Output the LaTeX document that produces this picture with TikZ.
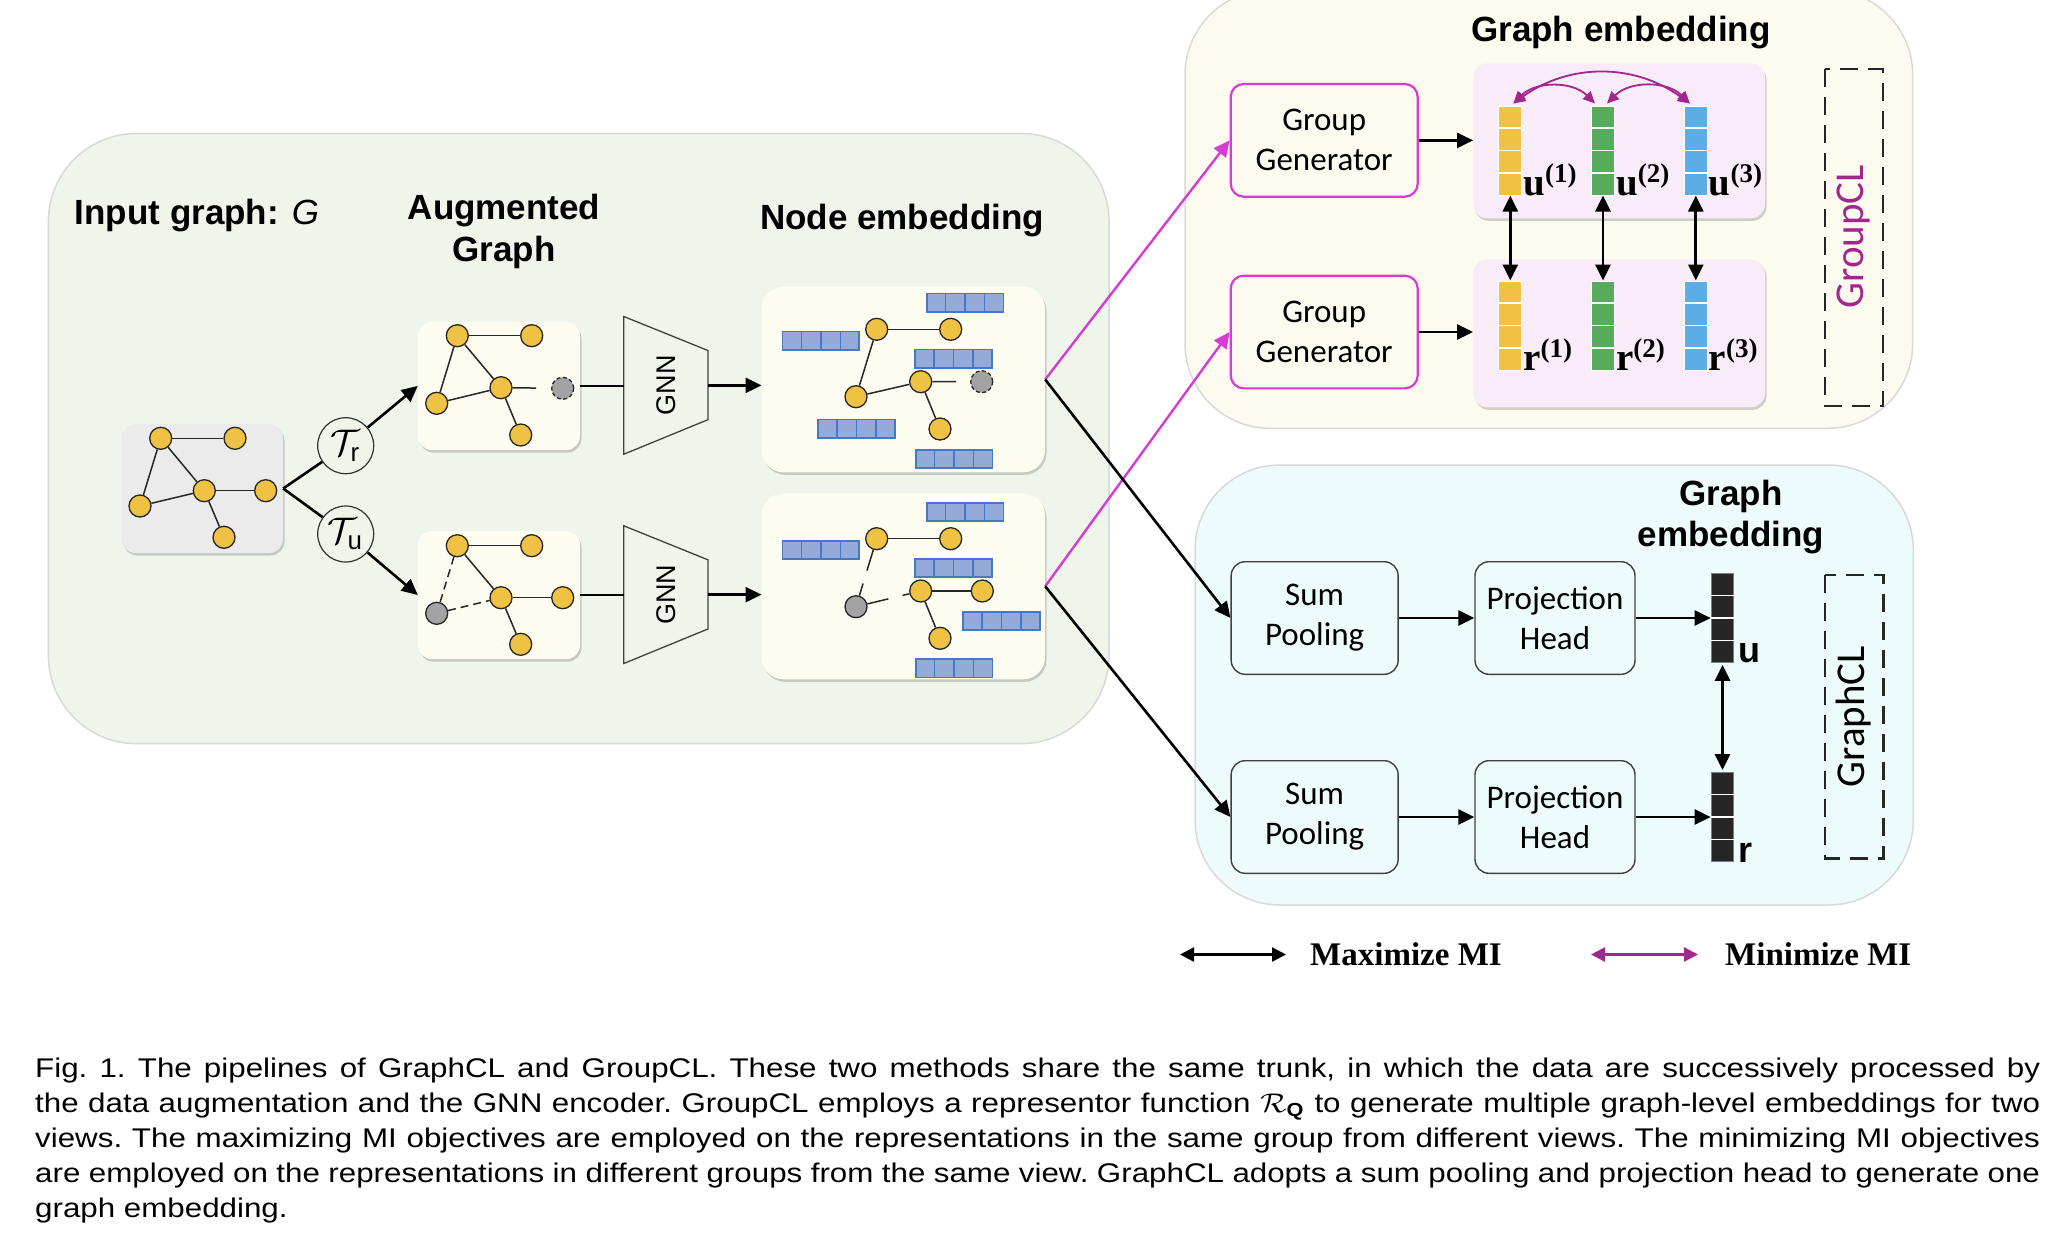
\documentclass[tikz,border=0pt]{standalone}
\usepackage{amsmath}
\usepackage{graphicx}
\usepackage{fontspec}
\setmainfont{Liberation Sans}
\setsansfont{Liberation Sans}
\newfontfamily\tnr{Liberation Serif}
\newfontfamily\calib{Carlito}
\newfontfamily\capfont[FakeStretch=1.16]{Liberation Sans}
\usetikzlibrary{arrows.meta,calc,shadows}
\hyphenpenalty=10000
\exhyphenpenalty=10000
\definecolor{bgGreen}{HTML}{EFF5EB}
\definecolor{cream}{HTML}{FDFCF1}
\definecolor{inGray}{HTML}{EBEBEB}
\definecolor{nodeY}{HTML}{F0C243}
\definecolor{nodeG}{HTML}{A3A3A3}
\definecolor{barFill}{HTML}{94AAD9}
\definecolor{barEdge}{HTML}{4779C3}
\definecolor{trCream}{HTML}{FDFBEF}
\definecolor{lav}{HTML}{F8ECF8}
\definecolor{mag}{HTML}{D63BD3}
\definecolor{purp}{HTML}{A3268F}
\definecolor{cyanBg}{HTML}{EEFBFD}
\definecolor{barY}{HTML}{F1C242}
\definecolor{barG}{HTML}{57AB5C}
\definecolor{barB}{HTML}{5CADE6}
\definecolor{barK}{HTML}{262626}
\tikzset{
  shadowed/.style={drop shadow={shadow xshift=1.5pt, shadow yshift=-2.5pt, opacity=0.3, fill=black!60}},
  panelbox/.style={draw=black!15, line width=1.5pt, rounded corners=88pt},
  cbox/.style={rectangle, fill=cream, rounded corners=14pt, inner sep=0pt, shadowed},
  gnode/.style={circle, draw=black!85, fill=nodeY, line width=1.3pt, minimum size=22pt, inner sep=0pt},
  gnodegray/.style={gnode, fill=nodeG},
  dnode/.style={dash pattern=on 4pt off 2.5pt},
  gedge/.style={line width=1.5pt, black!85},
  gdash/.style={gedge, dash pattern=on 8pt off 5pt},
  lk/.style={line width=2.6pt, black},
  conn/.style={lk, -{Triangle[length=16pt,width=15pt]}},
  bidir/.style={line width=2.8pt, black, {Triangle[length=16pt,width=15pt]}-{Triangle[length=16pt,width=15pt]}},
  magconn/.style={line width=2.4pt, mag, -{Triangle[length=16pt,width=15pt]}},
  minarc/.style={line width=1.8pt, purp, {Triangle[length=12pt,width=11pt]}-{Triangle[length=12pt,width=11pt]}},
  hbarst/.style={rectangle, draw=barEdge, fill=barFill, line width=1.5pt, minimum width=76.7pt, minimum height=18.3pt, inner sep=0pt, anchor=north west},
  vbarst/.style={rectangle, draw=white, line width=1pt, minimum width=22.7pt, minimum height=89pt, inner sep=0pt},
  ttl/.style={font=\fontsize{35}{35}\selectfont\bfseries, inner sep=0pt, anchor=base},
  ggbox/.style={rectangle, draw=mag, line width=2.2pt, fill=trCream, rounded corners=13pt, minimum width=187pt, minimum height=112.7pt, align=center, font=\calib\fontsize{33}{40}\selectfont},
  spbox/.style={rectangle, draw=black!75, line width=1.4pt, fill=cyanBg, rounded corners=14pt, minimum width=167pt, minimum height=112.6pt, align=center, font=\calib\fontsize{33}{40}\selectfont},
  dashbox/.style={draw=black!85, line width=2.4pt, dash pattern=on 18pt off 10pt},
  tcirc/.style={circle, draw=black!80, line width=1.2pt, minimum size=56pt, inner sep=0pt, fill=bgGreen},
  gnnbox/.style={inner sep=0pt, minimum width=83.7pt, minimum height=137.3pt, font=\fontsize{27}{27}\selectfont}
}
\newcommand\vcells[1]{\foreach \k in {0.25,0.5,0.75} \draw[white, line width=1.6pt] ($(#1.north west)!\k!(#1.south west)$) -- ($(#1.north east)!\k!(#1.south east)$);}
\newcommand\hcells[1]{\foreach \k in {0.25,0.5,0.75} \draw[barEdge, line width=1.5pt] ($(#1.north west)!\k!(#1.north east)$) -- ($(#1.south west)!\k!(#1.south east)$);}
\newcommand\supl[2]{\textbf{#1}\raisebox{13pt}{\fontsize{27}{27}\selectfont\textbf{(#2)}}}
\begin{document}
\begin{tikzpicture}[x=1pt,y=-1pt]
\useasboundingbox (0,0) rectangle (2053,1237);
\fill[white] (0,0) rectangle (2053,1237);

% ---------- panels ----------
\draw[panelbox, fill=bgGreen] (48.4,133.5) rectangle (1109,743.6);
\draw[panelbox, fill=trCream, rounded corners=85pt] (1185,-10) rectangle (1912.7,428.3);
\draw[panelbox, fill=cyanBg, rounded corners=85pt] (1195,465) rectangle (1913.3,905);

% ---------- titles ----------
\node[ttl, anchor=base west] (tin) at (74.6,224) {Input graph: {\mdseries\itshape G}};
\node[ttl] (taug1) at (504,219) {Augmented};
\node[ttl] (taug2) at (504,261) {Graph};
\node[ttl] (tne) at (902,229) {Node embedding};
\node[ttl] (tge) at (1621,41.7) {Graph embedding};
\node[ttl] (tge2a) at (1731,505) {Graph};
\node[ttl] (tge2b) at (1731,546.7) {embedding};

% ---------- input graph ----------
\node[cbox, fill=inGray, minimum width=161.3pt, minimum height=129pt] (gin) at (202.35,488.5) {};
\node[gnode] (i1) at (160.7,438.3) {};
\node[gnode] (i2) at (235,438.3) {};
\node[gnode] (i3) at (140,506) {};
\node[gnode] (i4) at (204.3,490.7) {};
\node[gnode] (i5) at (265.7,490.7) {};
\node[gnode] (i6) at (224,537.3) {};
\draw[gedge] (i1) -- (i2); \draw[gedge] (i1) -- (i3); \draw[gedge] (i1) -- (i4);
\draw[gedge] (i3) -- (i4); \draw[gedge] (i4) -- (i5); \draw[gedge] (i4) -- (i6);

% ---------- augmentations ----------
\node[tcirc] (Tr) at (345.7,445.7) {\scalebox{3.7}{$\mathcal{T}_{\textsf{r}}$}};
\node[tcirc] (Tu) at (345.7,534) {\scalebox{3.7}{$\mathcal{T}_{\textsf{u}}$}};
\node[cbox, minimum width=162pt, minimum height=128.3pt] (aug1) at (499,385.9) {};
\node[cbox, minimum width=162pt, minimum height=128.3pt] (aug2) at (499,595) {};
\draw[lk] (gin.east) -- (Tr);
\draw[lk] (gin.east) -- (Tu);
\draw[conn] (Tr) -- (aug1.west);
\draw[conn] (Tu) -- (aug2.west);

\node[gnode] (a1) at (457.3,335.7) {};
\node[gnode] (a2) at (531.7,335.7) {};
\node[gnode] (a3) at (436.7,403.3) {};
\node[gnode] (a4) at (501,387.7) {};
\node[gnodegray, dnode] (ag) at (562.7,388.3) {};
\node[gnode] (a6) at (520.7,435) {};
\draw[gedge] (a1) -- (a2); \draw[gedge] (a1) -- (a3); \draw[gedge] (a1) -- (a4);
\draw[gedge] (a3) -- (a4); \draw[gedge] (a4) -- ($(a4)!0.57!(ag)$); \draw[gedge] (a4) -- (a6);

\node[gnode] (b1) at (457.3,545.7) {};
\node[gnode] (b2) at (531.7,545.7) {};
\node[gnodegray] (bg) at (436.7,613.3) {};
\node[gnode] (b4) at (501,597.7) {};
\node[gnode] (b5) at (562.7,597.7) {};
\node[gnode] (b6) at (520.7,644.3) {};
\draw[gedge] (b1) -- (b2); \draw[gdash] (b1) -- (bg); \draw[gedge] (b1) -- (b4);
\draw[gdash] (bg) -- (b4); \draw[gedge] (b4) -- (b5); \draw[gedge] (b4) -- (b6);

% ---------- GNN ----------
\node[gnnbox] (gnn1) at (665.85,385.35) {\rotatebox{90}{GNN}};
\node[gnnbox] (gnn2) at (665.85,594.65) {\rotatebox{90}{GNN}};
\foreach \g in {gnn1,gnn2}
  \draw[black!75, line width=1.3pt, line join=miter] (\g.north west) -- ($(\g.north east)+(0,34)$) -- ($(\g.south east)+(0,-34.5)$) -- (\g.south west) -- cycle;
\draw[lk] (aug1.east) -- (aug1.east -| gnn1.west);
\draw[lk] (aug2.east) -- (aug2.east -| gnn2.west);

% ---------- node embedding ----------
\node[cbox, rounded corners=22pt, minimum width=283.3pt, minimum height=185.6pt] (ne1) at (903.35,379.5) {};
\node[cbox, rounded corners=22pt, minimum width=283.3pt, minimum height=186pt] (ne2) at (903.35,586.3) {};
\draw[conn] (gnn1.east) -- (gnn1.east -| ne1.west);
\draw[conn] (gnn2.east) -- (gnn2.east -| ne2.west);

\node[hbarst] (p1) at (926,292.7) {};
\node[hbarst] (p2) at (781.7,330.7) {};
\node[hbarst] (p3) at (914.3,348.7) {};
\node[hbarst] (p4) at (817.3,418.7) {};
\node[hbarst] (p5) at (915,449) {};
\node[hbarst] (q1) at (926,502) {};
\node[hbarst] (q2) at (781.7,540) {};
\node[hbarst] (q3) at (914.3,558) {};
\node[hbarst] (q4) at (962.3,611) {};
\node[hbarst] (q5) at (915,658.3) {};
\foreach \b in {p1,p2,p3,p4,p5,q1,q2,q3,q4,q5} {\hcells{\b}}

\node[gnode] (e1) at (876.7,329.3) {};
\node[gnode] (e2) at (950.7,329.3) {};
\node[gnode] (e3) at (856,396.7) {};
\node[gnode] (e4) at (920.7,381.7) {};
\node[gnodegray, dnode] (eg) at (981.7,381.7) {};
\node[gnode] (e6) at (940,429) {};
\draw[gedge] (e1) -- (e2); \draw[gedge] (e1) -- (e3); \draw[gedge] (e3) -- (e4);
\draw[gedge] (e4) -- ($(e4)!0.58!(eg)$); \draw[gedge] (e4) -- (e6);

\node[gnode] (f1) at (876.7,538.7) {};
\node[gnode] (f2) at (950.7,538.7) {};
\node[gnodegray] (fg) at (856,606.7) {};
\node[gnode] (f4) at (920.7,591) {};
\node[gnode] (f5) at (982.3,591) {};
\node[gnode] (f6) at (940,638.3) {};
\draw[gedge] (f1) -- (f2);
\draw[gedge] (f1) -- ($(f1)!0.47!(fg)$); \draw[gedge] ($(f1)!0.66!(fg)$) -- (fg);
\draw[gedge] (fg) -- ($(fg)!0.5!(f4)$); \draw[gedge] ($(fg)!0.72!(f4)$) -- (f4);
\draw[gedge] (f4) -- (f5); \draw[gedge] (f4) -- (f6);

% ---------- GroupCL ----------
\node[ggbox] (gg1) at (1324.2,140.35) {Group\\Generator};
\node[ggbox] (gg2) at (1324.2,332) {Group\\Generator};
\node[cbox, fill=lav, minimum width=291.7pt, minimum height=155pt] (upan) at (1619.15,140.8) {};
\node[cbox, fill=lav, minimum width=291.7pt, minimum height=148pt] (rpan) at (1619.15,333.3) {};
\draw[magconn] (ne1.east) -- (gg1.west);
\draw[magconn] (ne2.east) -- (gg2.west);
\draw[conn] (gg1.east) -- (gg1.east -| upan.west);
\draw[conn] (gg2.east) -- (gg2.east -| rpan.west);

\node[vbarst, fill=barY] (u1) at (1510.3,150.5) {};
\node[vbarst, fill=barG] (u2) at (1603,150.5) {};
\node[vbarst, fill=barB] (u3) at (1695.8,150.5) {};
\node[vbarst, fill=barY] (r1) at (1510.3,325.5) {};
\node[vbarst, fill=barG] (r2) at (1603,325.5) {};
\node[vbarst, fill=barB] (r3) at (1695.8,325.5) {};
\foreach \b in {u1,u2,u3,r1,r2,r3} {\vcells{\b}}
\foreach \b/\s/\n in {u1/u/1,u2/u/2,u3/u/3,r1/r/1,r2/r/2,r3/r/3}
  \node[anchor=base west, inner sep=0pt, font=\tnr\fontsize{39}{39}\selectfont] (l\b) at ($(\b.south east)+(1,0)$) {\supl{\s}{\n}};
\draw[bidir] (u1.south) -- (r1.north);
\draw[bidir] (u2.south) -- (r2.north);
\draw[bidir] (u3.south) -- (r3.north);
\draw[minarc] ($(u1.north)+(3,-2)$) to[bend left=45] ($(u2.north)+(-8,-2)$);
\draw[minarc] ($(u2.north)+(4,-2)$) to[bend left=45] ($(u3.north)+(-6,-2)$);
\draw[minarc] ($(u1.north)+(3,-2)$) to[bend left=36] ($(u3.north)+(-6,-2)$);

\draw[dashbox] (1825,69) rectangle (1882.7,406);
\node[inner sep=0pt, text=purp, font=\calib\fontsize{41}{41}\selectfont] (lgroup) at (1853.3,236.7) {\rotatebox{90}{GroupCL}};

% ---------- GraphCL ----------
\node[spbox] (sp1) at (1314.65,618) {Sum\\Pooling};
\node[spbox] (sp2) at (1314.65,817) {Sum\\Pooling};
\node[spbox, minimum width=160pt] (pj1) at (1555,618) {Projection\\Head};
\node[spbox, minimum width=160pt] (pj2) at (1555,817) {Projection\\Head};
\draw[conn] (ne1.east) -- (sp1.west);
\draw[conn] (ne2.east) -- (sp2.west);
\draw[conn] (sp1) -- (pj1);
\draw[conn] (sp2) -- (pj2);
\node[vbarst, fill=barK, draw=barK!60] (gb1) at (1722.5,617.8) {};
\node[vbarst, fill=barK, draw=barK!60] (gb2) at (1722.5,817) {};
\foreach \b in {gb1,gb2} {\vcells{\b}}
\draw[conn] (pj1) -- (pj1 -| gb1.west);
\draw[conn] (pj2) -- (pj2 -| gb2.west);
\node[anchor=base west, inner sep=0pt, font=\fontsize{36}{36}\selectfont\bfseries] (lu) at ($(gb1.south east)+(4,0)$) {u};
\node[anchor=base west, inner sep=0pt, font=\fontsize{36}{36}\selectfont\bfseries] (lr) at ($(gb2.south east)+(4,0)$) {r};
\draw[bidir] ($(gb1.south)+(0,2)$) -- ($(gb2.north)+(0,-2)$);
\draw[dashbox] (1825,575) rectangle (1883.3,858.3);
\node[inner sep=0pt, font=\calib\fontsize{41}{41}\selectfont] (lgraph) at (1853.3,716.7) {\rotatebox{90}{GraphCL}};

% ---------- legend ----------
\coordinate (la1) at (1180,954.5);
\coordinate (la2) at (1286,954.5);
\coordinate (lb1) at (1591,954.5);
\coordinate (lb2) at (1698,954.5);
\draw[line width=2.4pt, {Triangle[length=14pt,width=14pt]}-{Triangle[length=14pt,width=14pt]}] (la1) -- (la2);
\draw[line width=2.4pt, purp, {Triangle[length=14pt,width=14pt]}-{Triangle[length=14pt,width=14pt]}] (lb1) -- (lb2);
\node[anchor=west, inner sep=0pt, font=\tnr\bfseries\fontsize{33}{33}\selectfont] (lmax) at (1310,954) {Maximize MI};
\node[anchor=west, inner sep=0pt, font=\tnr\bfseries\fontsize{33}{33}\selectfont] (lmin) at (1725,954) {Minimize MI};

% ---------- caption ----------
\node[anchor=north west, inner sep=0pt, text width=2005pt, align=justify, font=\capfont\fontsize{27}{35}\selectfont\frenchspacing] (cap) at (35,1057.6) {Fig. 1. The pipelines of GraphCL and GroupCL. These two methods share the same trunk, in which the data are successively processed by\linebreak the data augmentation and the GNN encoder. GroupCL employs a representor function \scalebox{3.1}[2.7]{\fontsize{10}{12}\selectfont$\mathcal{R}_{\mathbf{Q}}$} to generate multiple graph-level embeddings for two\linebreak views. The maximizing MI objectives are employed on the representations in the same group from different views. The minimizing MI objectives\linebreak are employed on the representations in different groups from the same view. GraphCL adopts a sum pooling and projection head to generate one\linebreak graph embedding.};
\end{tikzpicture}
\end{document}
